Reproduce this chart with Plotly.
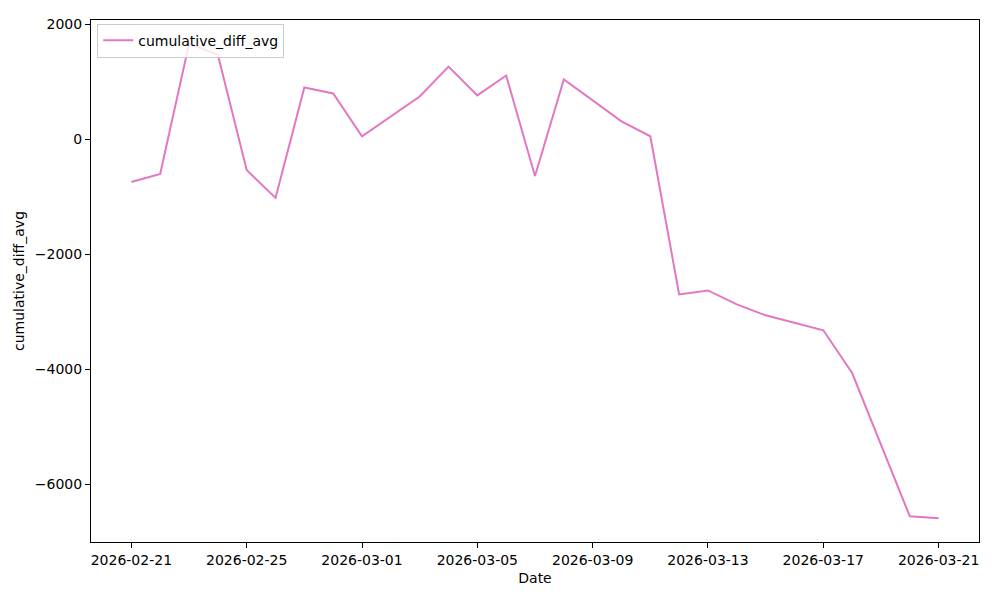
import plotly.graph_objects as go

dates = ["2026-02-21", "2026-02-22", "2026-02-23", "2026-02-24", "2026-02-25", "2026-02-26",
         "2026-02-27", "2026-02-28", "2026-03-01", "2026-03-03", "2026-03-04", "2026-03-05",
         "2026-03-06", "2026-03-07", "2026-03-08", "2026-03-10", "2026-03-11", "2026-03-12",
         "2026-03-13", "2026-03-14", "2026-03-15", "2026-03-17", "2026-03-18", "2026-03-20",
         "2026-03-21"]
cumulative_diff_avg = [-741, -603, 1666, 1476, -533, -1018,
                       904, 800, 55, 748, 1268, 766,
                       1112, -637, 1043, 315, 55, -2698,
                       -2629, -2872, -3062, -3322, -4067, -6561,
                       -6595]
x_ticks = ["2026-02-21", "2026-02-25", "2026-03-01", "2026-03-05", "2026-03-09",
           "2026-03-13", "2026-03-17", "2026-03-21"]
y_ticks = [2000, 0, -2000, -4000, -6000]
y_tick_text = ["2000", "0", "\u22122000", "\u22124000", "\u22126000"]

font = "DejaVu Sans"
fs = 14

fig = go.Figure()
fig.add_trace(go.Scatter(x=dates, y=cumulative_diff_avg, mode="lines",
                         name="cumulative_diff_avg",
                         line=dict(color="#e377c2", width=2)))

axis_common = dict(showline=True, linecolor="black", linewidth=1, mirror=True,
                   ticks="outside", ticklen=5, tickcolor="black", showgrid=False,
                   zeroline=False, tickfont=dict(family=font, size=fs, color="black"))

ymin, ymax = min(cumulative_diff_avg), max(cumulative_diff_avg)
pad = 0.05 * (ymax - ymin)

fig.update_layout(
    width=1000, height=600,
    margin=dict(l=83, r=29, t=8, b=66),
    plot_bgcolor="white", paper_bgcolor="white",
    font=dict(family=font, size=fs, color="black"),
    showlegend=True,
    legend=dict(x=0.007, y=0.993, xanchor="left", yanchor="top",
                bgcolor="rgba(255,255,255,0.8)", bordercolor="#cccccc", borderwidth=1,
                itemwidth=30, tracegroupgap=0,
                font=dict(family=font, size=fs, color="black")),
    xaxis=dict(title=dict(text="Date", font=dict(family=font, size=fs), standoff=6),
               type="date", range=["2026-02-19 14:24", "2026-03-22 09:36"],
               tickvals=x_ticks, tickformat="%Y-%m-%d", **axis_common),
    yaxis=dict(title=dict(text="cumulative_diff_avg", font=dict(family=font, size=fs), standoff=6),
               range=[ymin - pad, ymax + pad], tickvals=y_ticks, ticktext=y_tick_text, **axis_common),
)

fig.write_html("out.html")
